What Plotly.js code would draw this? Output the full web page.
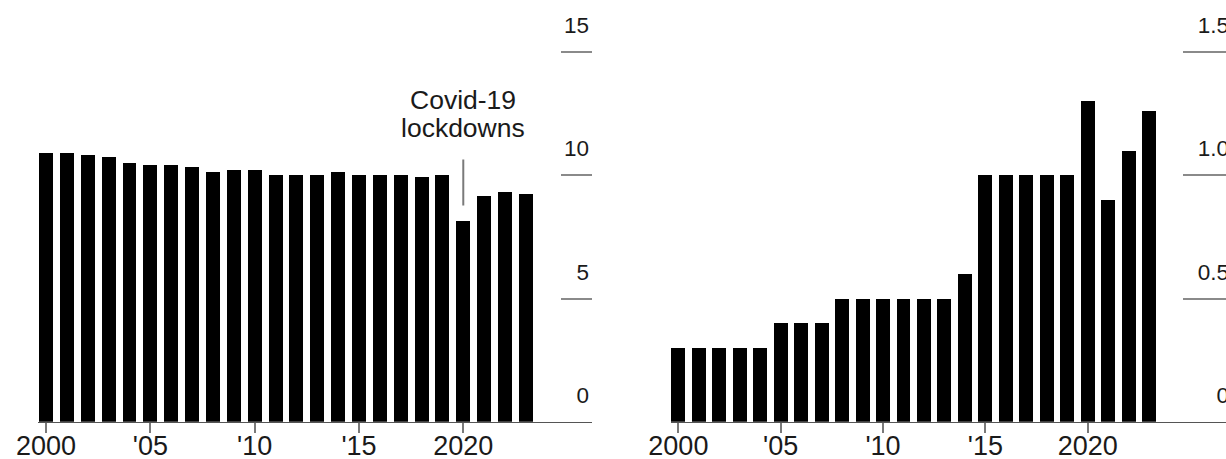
<!DOCTYPE html>
<html>
<head>
<meta charset="utf-8">
<script src="https://cdn.plot.ly/plotly-3.0.1.min.js"></script>
<style>
  html, body { margin: 0; padding: 0; overflow: hidden; background: #fff; }
  #chart { width: 1232px; height: 459px; }
</style>
</head>
<body>
<div id="chart"></div>
<script>
// ---- data ----
var years = [2000, 2001, 2002, 2003, 2004, 2005, 2006, 2007, 2008, 2009, 2010, 2011,
             2012, 2013, 2014, 2015, 2016, 2017, 2018, 2019, 2020, 2021, 2022, 2023];
var leftValues = [10.92, 10.92, 10.84, 10.74, 10.51, 10.43, 10.43, 10.34, 10.12, 10.21, 10.21, 10.02,
                  10.02, 10.02, 10.12, 10.02, 10.02, 10.02, 9.92, 10.02, 8.14, 9.15, 9.34, 9.24];
var rightValues = [0.30, 0.30, 0.30, 0.30, 0.30, 0.40, 0.40, 0.40, 0.50, 0.50, 0.50, 0.50,
                   0.50, 0.50, 0.60, 1.00, 1.00, 1.00, 1.00, 1.00, 1.30, 0.90, 1.10, 1.26];
var xTickVals = [2000, 2005, 2010, 2015, 2020];
var xTickText = ['2000', "'05", "'10", "'15", '2020'];
var leftYTicks = [0, 5, 10, 15];
var leftYText = ['0', '5', '10', '15'];
var rightYTicks = [0, 0.5, 1.0, 1.5];
var rightYText = ['0', '0.5', '1.0', '1.5'];
var noteLines = ['Covid-19', 'lockdowns'];
var noteYear = 2020;
var noteY = [13.05, 11.92];
var leaderY = [10.64, 8.77];

// ---- layout helpers ----
var W = 1232, H = 459;
var FONT = '"Liberation Sans", Arial, Helvetica, sans-serif';
var TXT = '#1a1a1a';
function fx(px) { return px / W; }
function fy(py) { return (H - py) / H; }

var barStyle = { color: '#000000', line: { width: 0 } };

var traces = [
  { type: 'bar', x: years, y: leftValues, xaxis: 'x', yaxis: 'y',
    marker: barStyle, width: 0.67, hoverinfo: 'x+y' },
  { type: 'bar', x: years, y: rightValues, xaxis: 'x2', yaxis: 'y2',
    marker: barStyle, width: 0.68, hoverinfo: 'x+y' }
];

function xAxis(domain, range) {
  return {
    domain: domain, range: range, fixedrange: true,
    tickmode: 'array', tickvals: xTickVals, ticktext: xTickText,
    ticks: 'outside', ticklen: 10, tickwidth: 2, tickcolor: '#7a7a7a',
    ticklabelstandoff: -11,
    showline: true, linecolor: '#555555', linewidth: 1.5,
    showgrid: false, zeroline: false, automargin: false,
    tickfont: { family: FONT, size: 27, color: TXT }
  };
}
function yAxis(anchor, domain, range, vals, text, tlen) {
  return {
    anchor: anchor, domain: domain, range: range, side: 'right', fixedrange: true,
    tickmode: 'array', tickvals: vals, ticktext: text,
    ticks: 'inside', ticklen: tlen, tickwidth: 2, tickcolor: '#8a8a8a',
    ticklabelposition: 'inside top', ticklabelshift: -10,
    showline: false, showgrid: false, zeroline: false, automargin: false,
    tickfont: { family: FONT, size: 22.5, color: TXT }
  };
}

var PXU = 24.64, BASE = 421.7, TOPV = 17.0;
var yDom = [fy(BASE), fy(BASE - TOPV * PXU)];

var layout = {
  width: W, height: H,
  margin: { l: 0, r: 0, t: 0, b: 0, pad: 0 },
  paper_bgcolor: '#ffffff', plot_bgcolor: '#ffffff',
  showlegend: false, bargap: 0,
  font: { family: FONT, color: TXT },
  xaxis: xAxis([fx(37.7), fx(592)], [1999.60, 2026.17]),
  yaxis: yAxis('x', yDom, [0, TOPV], leftYTicks, leftYText, 31),
  xaxis2: xAxis([fx(671), 1], [1999.64, 2027.05]),
  yaxis2: yAxis('x2', yDom, [0, TOPV / 10], rightYTicks, rightYText, 49),
  annotations: noteLines.map(function (t, i) {
    return { text: t, x: noteYear, y: noteY[i], xref: 'x', yref: 'y',
             xanchor: 'center', yanchor: 'middle', showarrow: false,
             font: { family: FONT, size: 26.5, color: TXT } };
  }),
  shapes: [
    { type: 'line', xref: 'x', yref: 'y', x0: noteYear, x1: noteYear,
      y0: leaderY[0], y1: leaderY[1], line: { color: '#7a7a7a', width: 2 } }
  ]
};

Plotly.newPlot('chart', traces, layout, { displayModeBar: false, staticPlot: true });
</script>
</body>
</html>
